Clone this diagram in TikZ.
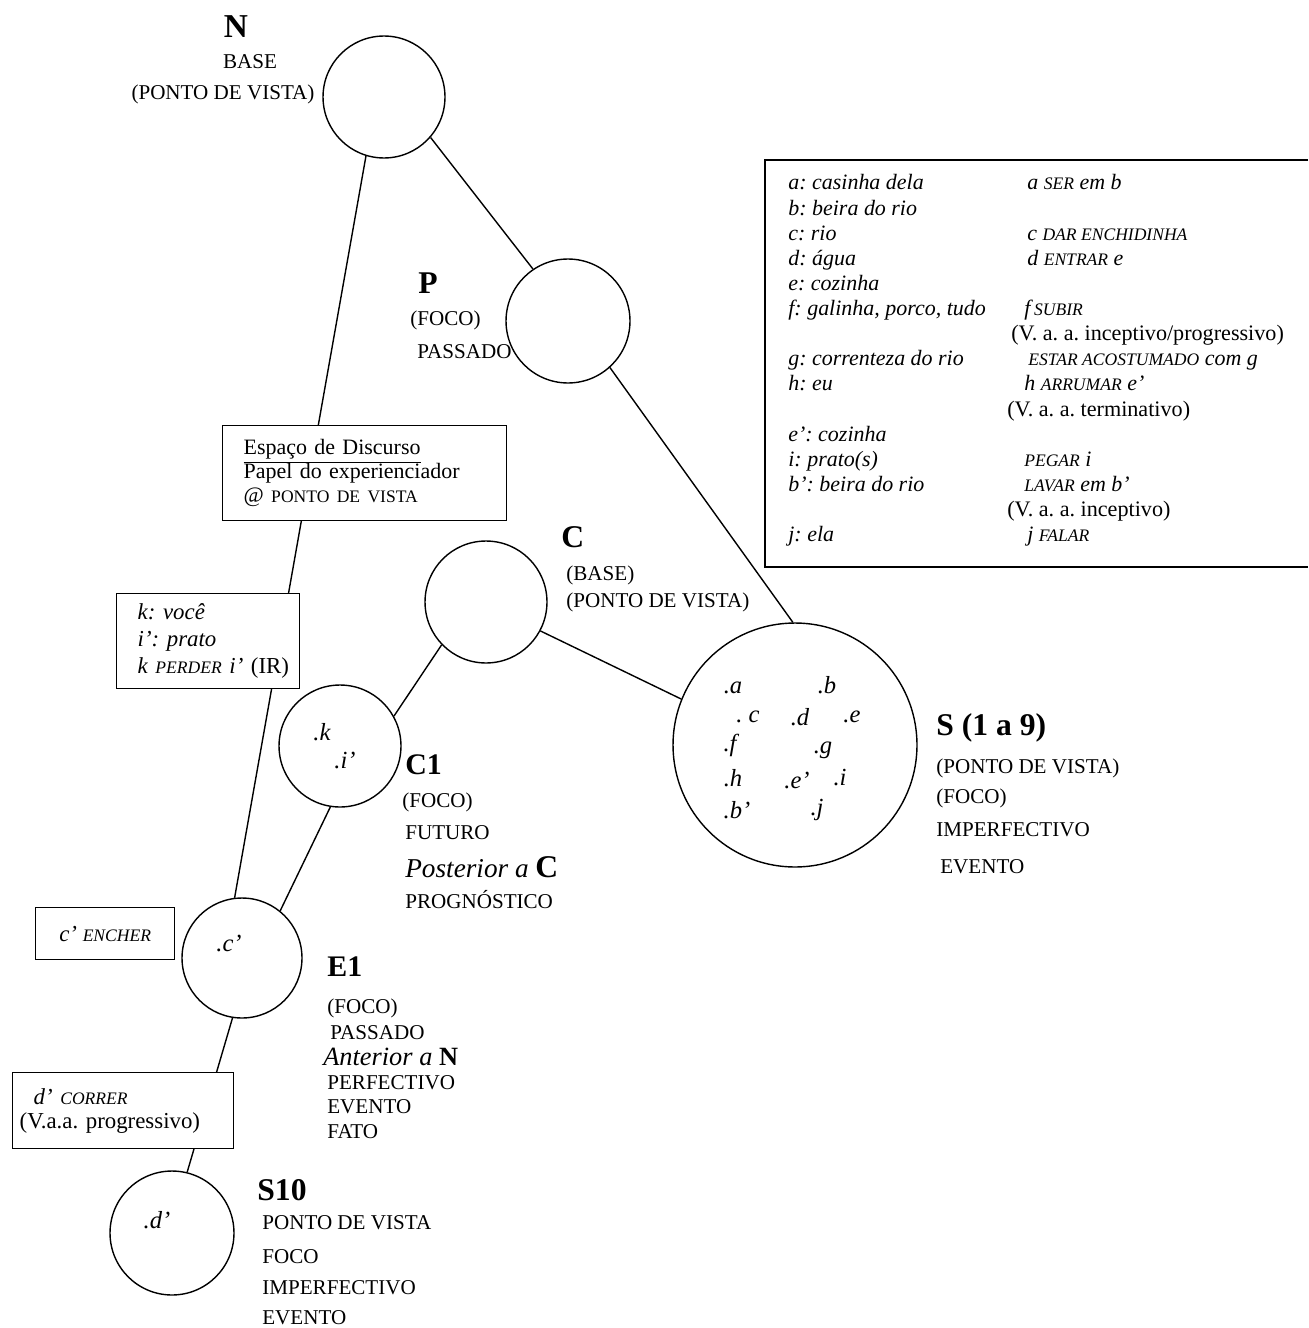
\documentclass[tikz,border=0pt]{standalone}
\usepackage{fontspec}
\setmainfont{Liberation Serif}
\frenchspacing
\newcommand{\vb}[1]{{\fontsize{10}{12}\selectfont\itshape #1}}
\newcommand{\vaa}[1]{{\fontsize{12.6}{14.3}\selectfont\upshape #1}}
\tikzset{
  spot/.style={circle, draw, line width=0.8pt, minimum size=2.44cm, inner sep=0pt},
  wire/.style={line width=0.8pt},
  ttl/.style={font=\fontsize{18}{21}\selectfont\bfseries, inner sep=0pt, anchor=west},
  lbl/.style={font=\fontsize{12}{14}\selectfont, inner sep=0pt, anchor=west},
  ltr/.style={font=\fontsize{14}{16}\selectfont\itshape, inner sep=0pt},
  boxed/.style={draw, fill=white, line width=0.8pt, anchor=north west, font=\fontsize{13}{13.6}\selectfont},
}

\begin{document}
\begin{tikzpicture}[x=0.02cm, y=-0.02cm]
\useasboundingbox (0,0) rectangle (1308,1328);

% espacos mentais
\node[spot] (N) at (384,97) {};
\node[spot, minimum size=2.48cm] (P) at (568,321) {};
\node[spot] (C) at (486,602) {};
\node[spot] (C1) at (340,746) {};
\node[spot, minimum size=2.4cm] (E1) at (242,958) {};
\node[spot, minimum size=2.48cm] (S10) at (172,1233) {};
\node[spot, minimum size=4.88cm] (S) at (795,745) {};

% ligacoes
\draw[wire] (N.-41) -- (P.124);
\draw[wire] (N.-107) -- (E1.97);
\draw[wire] (P.-48) -- (S.91);
\draw[wire] (C.224) -- (C1.29);
\draw[wire] (C.-28) -- (S.158);
\draw[wire] (C1.-99) -- (E1.51);
\draw[wire] (E1.-99) -- (S10.76);

% elementos dentro dos espacos
\foreach \n/\x/\y/\t in {a/733/688/.a, b/827/685/.b, c/748/717/{. c}, d/800/717/.d,
    e/852/717/.e, f/730/745/.f, g/823/750/.g, h/733/778/.h, e2/797/780/{.e'},
    i/840/778/.i, b2/737/810/{.b'}, j/817/810/.j}
  \node[ltr] (s\n) at (\x,\y) {\t};
\node[ltr] (k) at (322,732) {.k};
\node[ltr] (i2) at (345,760) {.i'};
\node[ltr] (c2) at (229,943) {.c'};
\node[ltr] (d2) at (157,1220) {.d'};

% rotulos
\node[ttl, anchor=center, font=\fontsize{19}{22}\selectfont\bfseries] (Nt) at (236,27) {N};
\node[lbl, anchor=center] (Ntxt1) at (250,62) {BASE};
\node[lbl, anchor=center] (Ntxt2) at (223,94) {(PONTO DE VISTA)};

\node[ttl] (Pt) at (418,283) {P};
\foreach \x/\y/\t [count=\i] in {410/320/(FOCO), 417/352/PASSADO}
  \node[lbl] (Ptxt\i) at (\x,\y) {\t};

\node[ttl] (Ct) at (561,537) {C};
\foreach \x/\y/\t [count=\i] in {566/575/(BASE), 566/602/(PONTO DE VISTA)}
  \node[lbl] (Ctxt\i) at (\x,\y) {\t};

\node[ttl] (St) at (936,728) {S (1 a 9)};
\foreach \x/\y/\t [count=\i] in {936/768/(PONTO DE VISTA), 936/798/(FOCO),
    936/830/IMPERFECTIVO, 940/867/EVENTO}
  \node[lbl] (Stxt\i) at (\x,\y) {\t};

\node[ttl, font=\fontsize{17}{20}\selectfont\bfseries] (C1t) at (405,765) {C1};
\foreach \x/\y/\t [count=\i] in {402/802/(FOCO), 405/833/FUTURO,
    405/867/{\fontsize{15.5}{18}\selectfont\itshape Posterior a \fontsize{18}{20}\selectfont\bfseries\upshape C},
    405/900/PROGNÓSTICO}
  \node[lbl] (C1txt\i) at (\x,\y) {\t};

\node[ttl, font=\fontsize{17}{20}\selectfont\bfseries] (E1t) at (327,967) {E1};
\foreach \x/\y/\t [count=\i] in {327/1008/(FOCO), 330/1033/PASSADO,
    323/1057/{\fontsize{15}{18}\selectfont\textit{Anterior a} \textbf{N}},
    327/1083/PERFECTIVO, 327/1107/EVENTO, 327/1132/FATO}
  \node[lbl] (E1txt\i) at (\x,\y) {\t};

\node[ttl] (S10t) at (257,1190) {S10};
\foreach \x/\y/\t [count=\i] in {262/1223/PONTO DE VISTA, 262/1257/FOCO,
    262/1288/IMPERFECTIVO, 262/1318/EVENTO}
  \node[lbl] (S10txt\i) at (\x,\y) {\t};

% caixas
\node[boxed, minimum width=5.68cm, minimum height=1.9cm, inner xsep=0.42cm,
  text width=4.84cm, align=left, font=\fontsize{12.5}{13.6}\selectfont] (esp) at (222,425)
  {\underline{Espaço de Discurso}\\ Papel do experienciador\\
   @ {\fontsize{10}{12}\selectfont PONTO DE VISTA}};
\node[boxed, minimum width=3.66cm, minimum height=1.9cm, inner xsep=0.42cm,
  text width=2.82cm, align=left, font=\fontsize{13}{15.3}\selectfont\itshape] (kbox) at (116,593)
  {k: você\\ i': prato\\ \mbox{k \vb{PERDER} i' {\upshape(IR)}}};
\node[boxed, minimum width=2.78cm, minimum height=1.04cm, align=center,
  font=\fontsize{13}{15}\selectfont\itshape] (cbox) at (35,907) {c' \vb{ENCHER}};
\node[boxed, minimum width=4.42cm, minimum height=1.52cm, inner xsep=0.14cm,
  text width=4.14cm, align=left] (dbox) at (12,1072)
  {\hspace*{0.28cm}\textit{d'} \vb{CORRER}\\ \mbox{(V.a.a. progressivo)}};

% legenda
\draw[wire] (1308,160) -- (765,160) -- (765,567) -- (1308,567);
\node[anchor=north west, inner sep=0pt, font=\fontsize{12.5}{14.3}\selectfont\itshape] (key) at (788,172) {%
\begin{tabular}{@{}p{4.38cm}@{}l@{}}
a: casinha dela & \hspace*{0.4cm}a \vb{SER} em b\\
b: beira do rio & \\
c: rio & \hspace*{0.4cm}c \vb{DAR ENCHIDINHA}\\
d: água & \hspace*{0.4cm}d \vb{ENTRAR} e\\
e: cozinha & \\
f: galinha, porco, tudo & \hspace*{0.34cm}f\,\vb{SUBIR}\\
 & \hspace*{0.08cm}\vaa{(V. a. a. inceptivo/progressivo)}\\
g: correnteza do rio & \hspace*{0.42cm}\vb{ESTAR ACOSTUMADO} com g\\
h: eu & \hspace*{0.34cm}h \vb{ARRUMAR} e'\\
 & \vaa{(V. a. a. terminativo)}\\
e': cozinha & \\
i: prato(s) & \hspace*{0.34cm}\vb{PEGAR} i\\
b': beira do rio & \hspace*{0.34cm}\vb{LAVAR} em b'\\
 & \vaa{(V. a. a. inceptivo)}\\
j: ela & \hspace*{0.4cm}j \vb{FALAR}
\end{tabular}};
\end{tikzpicture}
\end{document}
